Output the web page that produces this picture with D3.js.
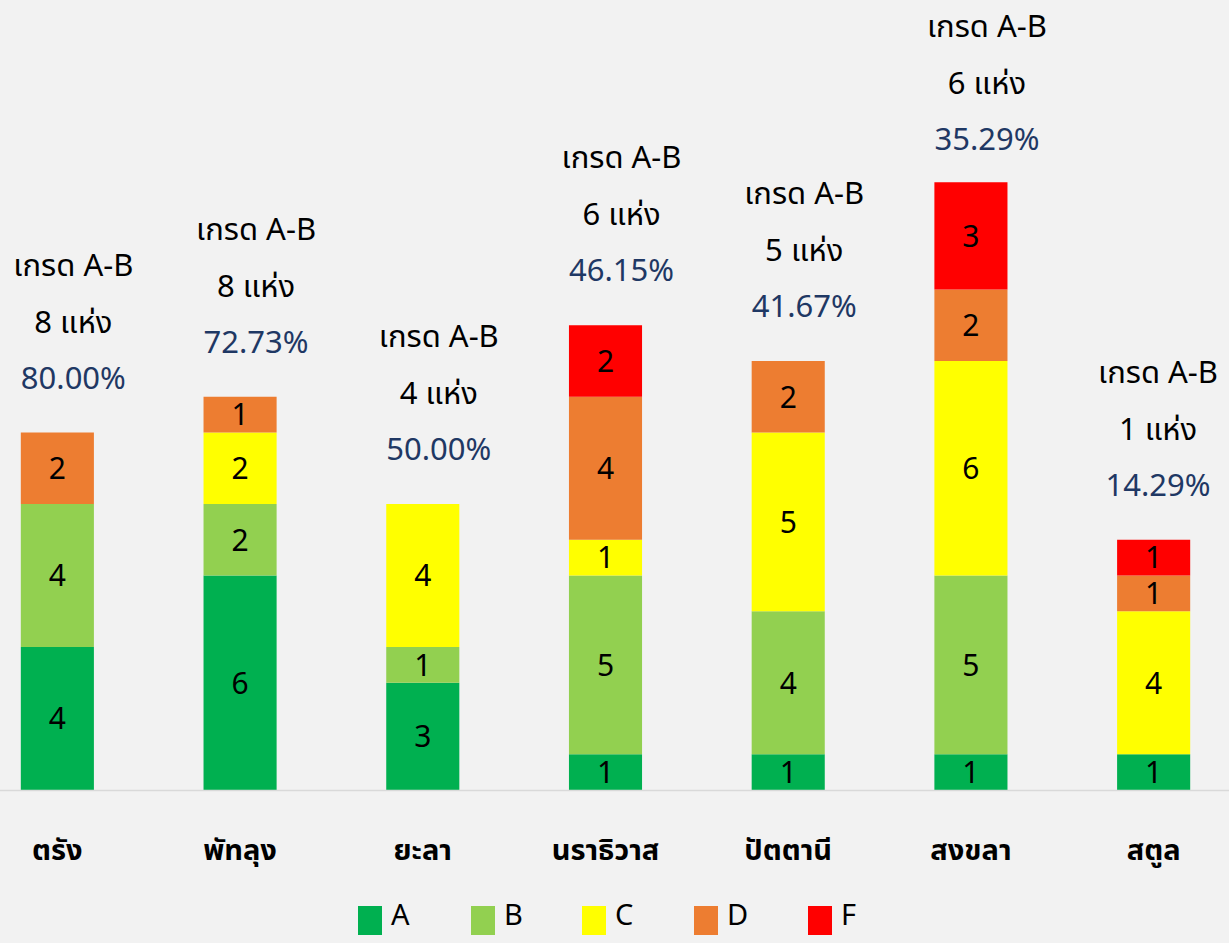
<!DOCTYPE html>
<html>
<head>
<meta charset="utf-8">
<script src="https://cdn.jsdelivr.net/npm/d3@7"></script>
<style>
  body { margin: 0; background: #F2F2F2; }
  svg { display: block; font-family: "Noto Sans Thai", "Leelawadee UI", Tahoma, "Noto Sans", sans-serif; }
</style>
</head>
<body>
<div id="chart"></div>
<script>
const provinces = ["ตรัง", "พัทลุง", "ยะลา", "นราธิวาส", "ปัตตานี", "สงขลา", "สตูล"];
const grades = ["A", "B", "C", "D", "F"];
const gradeA = [4, 6, 3, 1, 1, 1, 1];
const gradeB = [4, 2, 1, 5, 4, 5, 0];
const gradeC = [0, 2, 4, 1, 5, 6, 4];
const gradeD = [2, 1, 0, 4, 2, 2, 1];
const gradeF = [0, 0, 0, 2, 0, 3, 1];
const abCount = [8, 8, 4, 6, 5, 6, 1];
const abPercent = ["80.00%", "72.73%", "50.00%", "46.15%", "41.67%", "35.29%", "14.29%"];
const colors = ["#00B050", "#92D050", "#FFFF00", "#ED7D31", "#FF0000"];

function main() {
  const W = 1229, H = 943;
  const baseY = 790;

  const svg = d3.select("#chart")
    .append("svg")
    .attr("width", W)
    .attr("height", H);

  svg.append("rect").attr("width", W).attr("height", H).attr("fill", "#F2F2F2");

  const rows = provinces.map((p, i) => ({
    name: p, A: gradeA[i], B: gradeB[i], C: gradeC[i], D: gradeD[i], F: gradeF[i]
  }));
  const series = d3.stack().keys(grades)(rows);

  const x = d3.scaleBand()
    .domain(provinces)
    .range([-34, 1245])
    .paddingInner(0.6)
    .paddingOuter(0.3);

  const y = d3.scaleLinear()
    .domain([0, 17])
    .range([baseY, baseY - 17 * 35.75]);

  const color = d3.scaleOrdinal().domain(grades).range(colors);

  // stacked bars
  const layer = svg.append("g")
    .selectAll("g")
    .data(series)
    .join("g")
    .attr("fill", d => color(d.key));

  layer.selectAll("rect")
    .data(d => d.filter(s => s[1] - s[0] > 0))
    .join("rect")
    .attr("x", d => x(d.data.name))
    .attr("width", x.bandwidth())
    .attr("y", d => y(d[1]))
    .attr("height", d => y(d[0]) - y(d[1]));

  layer.selectAll("text")
    .data(d => d.filter(s => s[1] - s[0] > 0))
    .join("text")
    .attr("x", d => x(d.data.name) + x.bandwidth() / 2)
    .attr("y", d => (y(d[0]) + y(d[1])) / 2)
    .attr("dy", "0.36em")
    .attr("text-anchor", "middle")
    .attr("fill", "#000")
    .style("font-size", "30px")
    .text(d => d[1] - d[0]);

  // axis line
  svg.append("line")
    .attr("x1", 0).attr("x2", W)
    .attr("y1", baseY + 0.5).attr("y2", baseY + 0.5)
    .attr("stroke", "#D9D9D9")
    .attr("stroke-width", 1.5);

  // category labels
  svg.append("g")
    .selectAll("text")
    .data(provinces)
    .join("text")
    .attr("x", d => x(d) + x.bandwidth() / 2)
    .attr("y", 850)
    .attr("dy", "0.35em")
    .attr("text-anchor", "middle")
    .style("font-size", "29px")
    .style("font-weight", "bold")
    .text(d => d);

  // annotations above bars (kept inside the picture like the original labels)
  const totals = rows.map(r => grades.reduce((s, g) => s + r[g], 0));
  const annTop = d => Math.max(y(d) - 168, 26);
  const annX = p => Math.min(x(p) + x.bandwidth() / 2 + 16, 1158);
  const ann = svg.append("g")
    .selectAll("g")
    .data(provinces)
    .join("g")
    .attr("transform", (d, i) => `translate(${annX(d)}, ${annTop(totals[i])})`)
    .style("font-size", "31px")
    .attr("text-anchor", "middle");

  ann.append("text").attr("y", 0).attr("dy", "0.36em").text("เกรด A-B");
  ann.append("text").attr("y", 57).attr("dy", "0.36em").text((d, i) => abCount[i] + " แห่ง");
  ann.append("text").attr("y", 113).attr("dy", "0.36em")
    .attr("fill", "#1F3864")
    .text((d, i) => abPercent[i]);

  // legend
  const legX = [358, 471, 582, 694, 808];
  const leg = svg.append("g")
    .selectAll("g")
    .data(grades)
    .join("g")
    .attr("transform", (d, i) => `translate(${legX[i]}, 906)`);
  leg.append("rect").attr("width", 24).attr("height", 29).attr("fill", d => color(d));
  leg.append("text")
    .attr("x", 33).attr("y", 9)
    .attr("dy", "0.36em")
    .style("font-size", "29px")
    .text(d => d);
}

main();
</script>
</body>
</html>
